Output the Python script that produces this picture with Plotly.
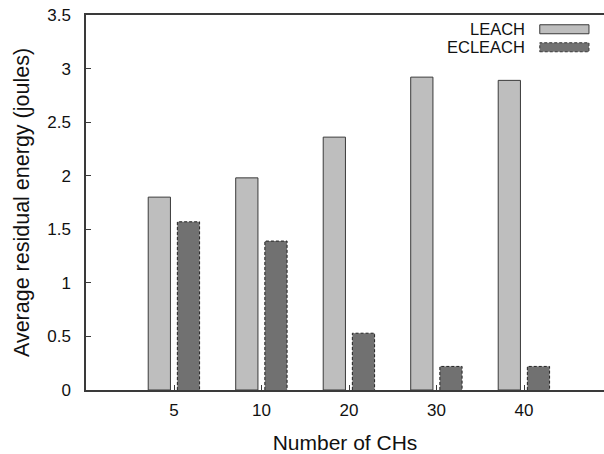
import plotly.graph_objects as go

categories = ["5", "10", "20", "30", "40"]
leach = [1.80, 1.98, 2.36, 2.92, 2.89]
ecleach = [1.57, 1.39, 0.53, 0.22, 0.22]
series_names = ["LEACH", "ECLEACH"]
y_ticks = [0, 0.5, 1, 1.5, 2, 2.5, 3, 3.5]

FONT = "Liberation Sans, Arial, sans-serif"
TXT = "#111111"
LINE = "#3a3a3a"
C_LEACH = "#bebebe"
C_EC = "#717171"
BAR_W = 0.254
OFF_L = -0.295
OFF_E = 0.038

idx = list(range(len(categories)))

fig = go.Figure()
fig.add_trace(go.Bar(
    x=idx, y=leach, name=series_names[0], width=BAR_W, offset=OFF_L,
    marker=dict(color=C_LEACH, line=dict(color=LINE, width=1)),
))
fig.add_trace(go.Bar(
    x=idx, y=ecleach, name=series_names[1], width=BAR_W, offset=OFF_E,
    marker=dict(color=C_EC, line=dict(width=0)),
))

# dashed outline for ECLEACH bars derived from the data
ox, oy = [], []
for i, v in zip(idx, ecleach):
    x0 = i + OFF_E
    x1 = x0 + BAR_W
    ox += [x0, x0, x1, x1, None]
    oy += [0, v, v, 0, None]
fig.add_trace(go.Scatter(
    x=ox, y=oy, mode="lines", hoverinfo="skip", showlegend=False,
    line=dict(color="#222222", width=1, dash="3px,2px"),
))

# legend drawn at top right (text right-aligned, wide swatches)
leg_x_text = 0.851
leg_x0, leg_x1 = 0.876, 0.971
rows = [(0.962, C_LEACH, "solid"), (0.914, C_EC, "3px,2px")]
for name, (yc, col, dash) in zip(series_names, rows):
    fig.add_annotation(
        x=leg_x_text, y=yc, xref="paper", yref="paper", text=name,
        showarrow=False, xanchor="right", yanchor="middle",
        font=dict(family=FONT, size=16.5, color=TXT),
    )
    fig.add_shape(
        type="rect", xref="paper", yref="paper",
        x0=leg_x0, x1=leg_x1, y0=yc - 0.012, y1=yc + 0.012,
        fillcolor=col, line=dict(color=LINE, width=1, dash=dash),
    )

fig.update_layout(
    width=604, height=454,
    margin=dict(l=86, r=0, t=15, b=64),
    plot_bgcolor="white", paper_bgcolor="white",
    showlegend=False,
    barmode="overlay",
    font=dict(family=FONT, color=TXT),
)
fig.update_xaxes(
    range=[-1.006, 4.914],
    tickmode="array", tickvals=idx, ticktext=categories,
    ticks="inside", ticklen=5, tickcolor=LINE, tickwidth=1,
    showline=True, linecolor=LINE, linewidth=1.5, mirror=True,
    showgrid=False, zeroline=False,
    tickfont=dict(family=FONT, size=17, color=TXT),
    ticklabelstandoff=4,
    title=dict(text="Number of CHs", font=dict(family=FONT, size=21, color=TXT), standoff=16),
)
fig.update_yaxes(
    range=[0, 3.5],
    tickmode="array", tickvals=y_ticks, ticktext=[f"{t:g}" for t in y_ticks],
    ticks="inside", ticklen=5, tickcolor=LINE, tickwidth=1,
    showline=True, linecolor=LINE, linewidth=1.5, mirror=False,
    showgrid=False, zeroline=False,
    tickfont=dict(family=FONT, size=17, color=TXT),
    ticklabelstandoff=10,
    title=dict(text="Average residual energy (joules)", font=dict(family=FONT, size=21.5, color=TXT), standoff=12),
)

fig.write_html("out.html", config={"displayModeBar": False})

# remove the default 8px body margin so the figure fills the window exactly
with open("out.html", "r", encoding="utf-8") as f:
    html = f.read()
html = html.replace("<head>", "<head><style>html,body{margin:0;padding:0;overflow:hidden}</style>", 1)
with open("out.html", "w", encoding="utf-8") as f:
    f.write(html)
